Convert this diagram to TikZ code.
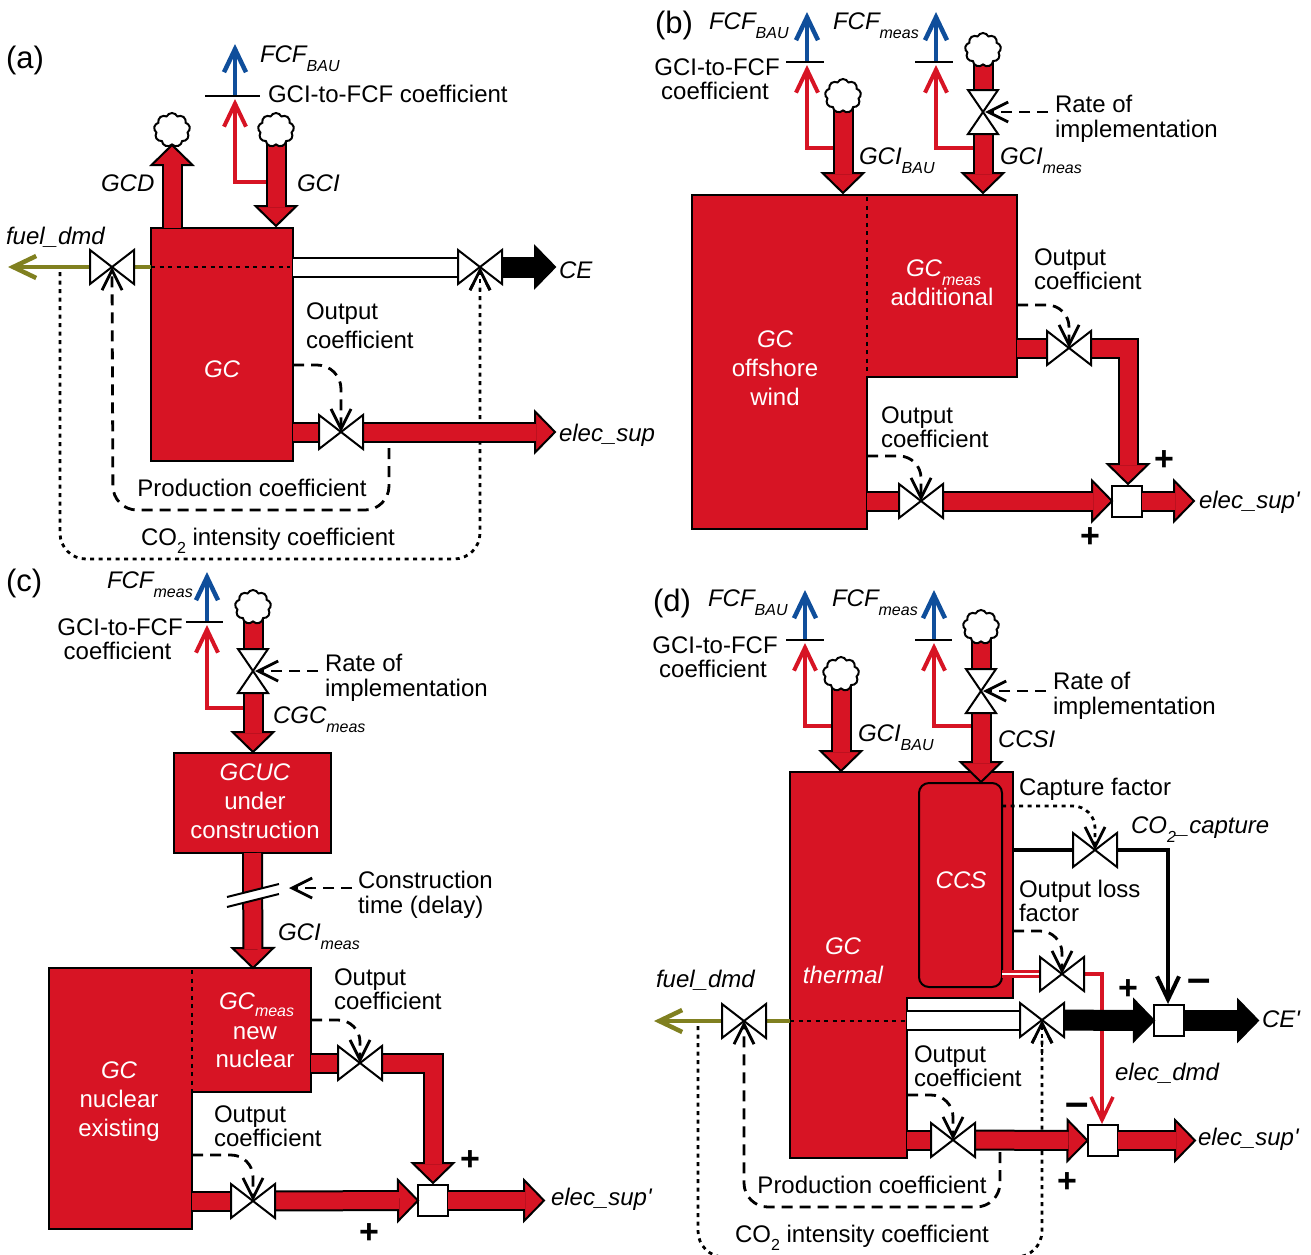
\documentclass[tikz,border=0pt]{standalone}
\usepackage{fontspec}
\setmainfont{Liberation Sans}
\usetikzlibrary{calc,arrows.meta,shapes.symbols}
\definecolor{gcred}{RGB}{215,20,36}
\definecolor{flowblue}{RGB}{15,78,155}
\definecolor{fuelolive}{RGB}{128,128,32}
\newcommand\sbt[1]{\raisebox{-9pt}{\fontsize{16}{16}\selectfont\itshape #1}}
\newcommand\cotwo{CO\raisebox{-8pt}{\fontsize{16}{16}\selectfont 2}}
\tikzset{
 x=1pt,y=-1pt,
 every node/.style={inner sep=0pt,outer sep=0pt,font=\fontsize{24}{24.5}\selectfont},
 lab/.style={anchor=base west},
 txt/.style={anchor=west,align=left},
 ctxt/.style={anchor=center,align=center},
 wh/.style={text=white},
 ls/.style={font=\fontsize{24}{#1}\selectfont},
 panel/.style={anchor=base west,font=\fontsize{31}{31}\selectfont},
 sign/.style={font=\fontsize{34}{34}\selectfont\bfseries},
 minussign/.style={font=\fontsize{42}{42}\selectfont\bfseries},
 gcbox/.style={draw=black,fill=gcred,line width=2pt},
 pipe/.style={draw=black,line width=2pt,double=#1,double distance=17pt},
 head/.style={draw=black,line width=2pt,miter limit=8},
 vlv/.style={draw=black,fill=white,line width=2pt},
 sq/.style={draw=black,fill=white,line width=2pt,minimum width=30pt,minimum height=31pt},
 puff/.style={cloud,cloud puffs=9,cloud puff arc=130,aspect=1.05,draw=black,fill=white,line width=2pt,minimum width=36pt,minimum height=34pt},
 barb/.style={-{Straight Barb[length=23pt,width=22pt,line width=#1]}},
 cbarb/.style={-{Straight Barb[length=20pt,width=20pt,line width=#1]}},
 bluearr/.style={draw=flowblue,line width=4.5pt,barb=4.5pt},
 redarr/.style={draw=gcred,line width=4pt,barb=4pt},
 fuelarr/.style={draw=fuelolive,line width=4.5pt,barb=4.5pt},
 coefbar/.style={draw=black,line width=2pt},
 dashctl/.style={draw=black,line width=2.8pt,dash pattern=on 11pt off 7pt,cbarb=2.8pt},
 dotctl/.style={draw=black,line width=2.8pt,dash pattern=on 4pt off 4.5pt,cbarb=2.8pt},
 dotin/.style={draw=black,line width=2.8pt,dash pattern=on 4pt off 4.5pt},
 co2line/.style={draw=black,line width=4pt,barb=4pt},
}
% fat arrow with head
\newcommand\fat[3][gcred]{%
 \coordinate (tmpT) at ($(#3)!20pt!(#2)$);
 \filldraw[head,fill=#1] ($(tmpT)!20.5pt!90:(#3)$) -- (#3) -- ($(tmpT)!20.5pt!-90:(#3)$) -- cycle;
 \coordinate (tmpE) at ($(#3)!19pt!(#2)$);
 \draw[pipe=#1] (#2) -- (tmpE);}
% fat arrow with a bend
\newcommand\fatL[4][gcred]{%
 \coordinate (tmpT) at ($(#4)!20pt!(#3)$);
 \filldraw[head,fill=#1] ($(tmpT)!20.5pt!90:(#4)$) -- (#4) -- ($(tmpT)!20.5pt!-90:(#4)$) -- cycle;
 \coordinate (tmpE) at ($(#4)!19pt!(#3)$);
 \draw[pipe=#1] (#2) -- (#3) -- (tmpE);}
\newcommand\pipeseg[3][gcred]{\draw[pipe=#1] (#2) -- (#3);}
\newcommand\valveH[1]{\fill[white] ($(#1)+(-22,-17)$) rectangle ($(#1)+(22,17)$);\filldraw[vlv] ($(#1)+(-22,-17)$) -- ($(#1)+(-22,17)$) -- ($(#1)+(22,-17)$) -- ($(#1)+(22,17)$) -- cycle;}
\newcommand\valveV[1]{\fill[white] ($(#1)+(-15,-22)$) rectangle ($(#1)+(15,22)$);\filldraw[vlv] ($(#1)+(-15,-22)$) -- ($(#1)+(15,-22)$) -- ($(#1)+(-15,22)$) -- ($(#1)+(15,22)$) -- cycle;}
\newcommand\cbar[3]{\draw[coefbar] ($(#1)+(-#2,0)$) -- ($(#1)+(#3,0)$);}
\begin{document}
\begin{tikzpicture}
\useasboundingbox (0,0) rectangle (1311,1254);
%%%%%%%%%% (a)
\node[panel] (la) at (6,68) {(a)};
\coordinate (aBar) at (235,96);
\coordinate (aBlueT) at (235,44);
\coordinate (aRedT) at (235,99);
\coordinate (aGciC) at (276,130);
\coordinate (aGciT) at (276,226);
\coordinate (aGciJ) at (276,182);
\coordinate (aGcdB) at (172,228);
\coordinate (aGcdT) at (172,145);
\node[gcbox,minimum width=142pt,minimum height=233pt] (aGC) at (222,344.5) {};
\coordinate (aFuelS) at (151,267);
\coordinate (aFuelT) at (8,267);
\coordinate (aFuelV) at (112,267);
\coordinate (aCeV) at (480,267);
\coordinate (aWhS) at (293,267);
\coordinate (aCeT) at (555,267);
\coordinate (aElS) at (293,432);
\coordinate (aElV) at (341,432);
\coordinate (aElT) at (555,432);
\coordinate (aOutS) at (293,365);
\coordinate (aP1) at (389,448);
\coordinate (aP2) at (389,510);
\coordinate (aP3) at (113,510);
\coordinate (aC0) at (60,272);
\coordinate (aC1) at (60,559);
\coordinate (aC2) at (480,559);
\coordinate (aCx) at (480,300);
\draw[dotctl,rounded corners=26pt] (aC0) -- (aC1) -- (aC2) -- (aCeV);
\draw[redarr] (aGciJ) -| (aRedT);
\draw[bluearr] (aBar) -- (aBlueT);
\cbar{aBar}{30}{25}
\fat{aGciC}{aGciT}
\fat{aGcdB}{aGcdT}
\node[puff] (aCl1) at (aGciC) {};
\node[puff] (aCl2) at (172,130) {};
\draw[fuelarr] (aFuelS) -- (aFuelT);
\draw[dotin] (aFuelS) -- (290,267);
\pipeseg[white]{aWhS}{aCeV}
\fat[black]{aCeV}{aCeT}
\pipeseg{aElS}{aElV}
\fat{aElV}{aElT}
\valveH{aFuelV}\valveH{aCeV}\valveH{aElV}
\draw[dotctl] (aCx) -- (aCeV);
\draw[dashctl,rounded corners=24pt] (aOutS) -| (aElV);
\draw[dashctl,rounded corners=24pt] (aP1) -- (aP2) -- (aP3) -- (aFuelV);
\node[lab] (la1) at (260,62) {\itshape FCF\sbt{BAU}};
\node[lab] (la2) at (268,102) {GCI-to-FCF coefficient};
\node[lab] (la3) at (101,191) {\itshape GCD};
\node[lab] (la4) at (297,191) {\itshape GCI};
\node[lab] (la5) at (6,244) {\itshape fuel\_dmd};
\node[lab] (la6) at (559,278) {\itshape CE};
\node[txt,ls=29] (la7) at (306,326) {Output\\coefficient};
\node[wh] (la8) at (222,369) {\itshape GC};
\node[lab] (la9) at (559,441) {\itshape elec\_sup};
\node (la10) at (252,488) {Production coefficient};
\node[lab] (la11) at (141,545) {\cotwo{} intensity coefficient};
%%%%%%%%%% (b)
\node[panel] (lb) at (655,33) {(b)};
\coordinate (bBar1) at (807,62);
\coordinate (bBlue1) at (807,12);
\coordinate (bRed1) at (807,65);
\coordinate (bJ1) at (843,148);
\coordinate (bC1) at (843,96);
\coordinate (bT1) at (843,193);
\coordinate (bBar2) at (936,62);
\coordinate (bBlue2) at (936,12);
\coordinate (bRed2) at (936,65);
\coordinate (bJ2) at (983,148);
\coordinate (bC2) at (983,50);
\coordinate (bV2) at (983,112);
\coordinate (bT2) at (983,193);
\coordinate (bRate) at (1048,112);
\coordinate (bTip2) at (985,112);
\filldraw[gcbox] (692,195) -- (1017,195) -- (1017,377) -- (867,377) -- (867,529) -- (692,529) -- cycle;
\draw[dotin] (867,197) -- (867,377);
\draw[redarr] (bJ1) -| (bRed1);
\draw[redarr] (bJ2) -| (bRed2);
\draw[bluearr] (bBar1) -- (bBlue1);
\draw[bluearr] (bBar2) -- (bBlue2);
\cbar{bBar1}{21}{17}\cbar{bBar2}{21}{17}
\fat{bC1}{bT1}
\pipeseg{bC2}{bV2}
\fat{bV2}{bT2}
\node[puff] (bCl1) at (bC1) {};
\node[puff] (bCl2) at (bC2) {};
\valveV{bV2}
\draw[dashctl] (bRate) -- (bTip2);
\coordinate (bUS) at (1017,348);
\coordinate (bUV) at (1069,348);
\coordinate (bUC) at (1128,348);
\coordinate (bUT) at (1128,484);
\coordinate (bUO) at (1017,305);
\coordinate (bLS) at (867,501);
\coordinate (bLV) at (921,501);
\coordinate (bLO) at (867,456);
\node[sq] (bSq) at (1127,501) {};
\coordinate (bOutT) at (1194,501);
\pipeseg{bUS}{bUV}
\fatL{bUV}{bUC}{bUT}
\pipeseg{bLS}{bLV}
\fat{bLV}{bSq.west}
\fat{bSq.east}{bOutT}
\valveH{bUV}\valveH{bLV}
\draw[dashctl,rounded corners=22pt] (bUO) -| (bUV);
\draw[dashctl,rounded corners=22pt] (bLO) -| (bLV);
\node[lab] (lb1) at (709,29) {\itshape FCF\sbt{BAU}};
\node[lab] (lb2) at (833,29) {\itshape FCF\sbt{meas}};
\node[ctxt] (lb3) at (717,79) {GCI-to-FCF\\coefficient\hspace*{4pt}};
\node[txt] (lb4) at (1055,119) {Rate of\\implementation};
\node[lab] (lb5) at (859,164) {\itshape GCI\sbt{BAU}};
\node[lab] (lb6) at (1000,164) {\itshape GCI\sbt{meas}};
\node[wh,lab] (lb7) at (906,276) {\itshape GC\sbt{meas}};
\node[wh] (lb8) at (942,297) {additional};
\node[txt] (lb9) at (1034,269) {Output\\coefficient};
\node[wh,ctxt,ls=29] (lb10) at (775,368) {\itshape GC\\offshore\\wind};
\node[txt] (lb11) at (881,427) {Output\\coefficient};
\node[sign] (lb12) at (1164,461) {+};
\node[sign] (lb13) at (1090,538) {+};
\node[lab] (lb14) at (1199,508) {\itshape elec\_sup\textquotesingle};
%%%%%%%%%% (c)
\node[panel] (lc) at (6,591) {(c)};
\coordinate (cBar) at (207,622);
\coordinate (cBlue) at (207,572);
\coordinate (cRed) at (207,625);
\coordinate (cJ) at (253,708);
\coordinate (cC) at (253,607);
\coordinate (cV) at (253,671);
\coordinate (cT) at (253,752);
\coordinate (cRate) at (318,671);
\coordinate (cTip) at (255,671);
\node[gcbox,minimum width=157pt,minimum height=100pt] (cUC) at (252.5,803) {};
\coordinate (cT2) at (253,968);
\filldraw[gcbox] (49,968) -- (311,968) -- (311,1092) -- (192,1092) -- (192,1229) -- (49,1229) -- cycle;
\draw[dotin] (192,970) -- (192,1092);
\draw[redarr] (cJ) -| (cRed);
\draw[bluearr] (cBar) -- (cBlue);
\cbar{cBar}{21}{16}
\pipeseg{cC}{cV}
\fat{cV}{cT}
\node[puff] (cCl) at (cC) {};
\valveV{cV}
\draw[dashctl] (cRate) -- (cTip);
\fat{cUC.south}{cT2}
\coordinate (cD1) at (227,897);\coordinate (cD2) at (279,884);
\coordinate (cD3) at (279,894);\coordinate (cD4) at (227,907);
\filldraw[fill=white,draw=none] (cD1) -- (cD2) -- (cD3) -- (cD4) -- cycle;
\draw[coefbar] (cD1) -- (cD2);
\draw[coefbar] (cD4) -- (cD3);
\coordinate (cDelS) at (352,888);
\coordinate (cDelT) at (289,888);
\draw[dashctl] (cDelS) -- (cDelT);
\coordinate (cUS) at (311,1063);
\coordinate (cUV) at (360,1063);
\coordinate (cUC2) at (433,1063);
\coordinate (cUT) at (433,1183);
\coordinate (cUO) at (311,1020);
\coordinate (cLS) at (192,1201);
\coordinate (cLV) at (253,1201);
\coordinate (cLO) at (192,1155);
\node[sq] (cSq) at (433,1200.5) {};
\coordinate (cOutT) at (544,1200.5);
\pipeseg{cUS}{cUV}
\fatL{cUV}{cUC2}{cUT}
\pipeseg{cLS}{cLV}
\fat{cLV}{cSq.west}
\fat{cSq.east}{cOutT}
\valveH{cUV}\valveH{cLV}
\draw[dashctl,rounded corners=22pt] (cUO) -| (cUV);
\draw[dashctl,rounded corners=22pt] (cLO) -| (cLV);
\node[lab] (lc1) at (107,588) {\itshape FCF\sbt{meas}};
\node[ctxt] (lc2) at (120,639) {GCI-to-FCF\\coefficient\hspace*{5pt}};
\node[txt] (lc3) at (325,678) {Rate of\\implementation};
\node[lab] (lc4) at (273,723) {\itshape CGC\sbt{meas}};
\node[wh,ctxt,ls=29] (lc5) at (255,801) {\itshape GCUC\\under\\construction};
\node[txt] (lc6) at (358,895) {Construction\\time (delay)};
\node[lab] (lc7) at (278,940) {\itshape GCI\sbt{meas}};
\node[wh,lab] (lc8) at (219,1009) {\itshape GC\raisebox{-7pt}{\fontsize{16}{16}\selectfont\itshape meas}};
\node[wh,ctxt,ls=28] (lc9) at (255,1047) {new\\nuclear};
\node[txt] (lc10) at (334,989) {Output\\coefficient};
\node[wh,ctxt,ls=29] (lc11) at (119,1102) {\itshape GC\\\upshape nuclear\\existing};
\node[txt] (lc12) at (214,1126) {Output\\coefficient};
\node[sign] (lc13) at (470,1161) {+};
\node[sign] (lc14) at (369,1234) {+};
\node[lab] (lc15) at (551,1205) {\itshape elec\_sup\textquotesingle};
%%%%%%%%%% (d)
\node[panel] (ld) at (653,611) {(d)};
\coordinate (dBar1) at (805,640);
\coordinate (dBlue1) at (805,590);
\coordinate (dRed1) at (805,643);
\coordinate (dJ1) at (841,726);
\coordinate (dC1) at (841,674);
\coordinate (dT1) at (841,771);
\coordinate (dBar2) at (934,640);
\coordinate (dBlue2) at (934,590);
\coordinate (dRed2) at (934,643);
\coordinate (dJ2) at (981,726);
\coordinate (dC2) at (981,627);
\coordinate (dV2) at (981,691);
\coordinate (dT2) at (981,782);
\coordinate (dRate) at (1046,691);
\coordinate (dTip) at (983,691);
% CO2 intensity loop, under the pipes
\coordinate (dFuelS) at (790,1021);
\coordinate (dFuelT) at (654,1021);
\coordinate (dFuelV) at (744,1021);
\coordinate (dCeV) at (1042,1020);
\coordinate (dC0) at (698,1026);
\coordinate (dC3) at (698,1257);
\coordinate (dC4) at (1042,1257);
\coordinate (dCx) at (1042,1055);
\draw[dotctl,rounded corners=26pt] (dC0) -- (dC3) -- (dC4) -- (dCeV);
\filldraw[gcbox] (790,772) -- (1013,772) -- (1013,998) -- (907,998) -- (907,1158) -- (790,1158) -- cycle;
\node[gcbox,rounded corners=10pt,minimum width=83pt,minimum height=204pt] (dCCS) at (960.5,885) {};
\draw[redarr] (dJ1) -| (dRed1);
\draw[redarr] (dJ2) -| (dRed2);
\draw[bluearr] (dBar1) -- (dBlue1);
\draw[bluearr] (dBar2) -- (dBlue2);
\cbar{dBar1}{19}{19}\cbar{dBar2}{19}{18}
\fat{dC1}{dT1}
\pipeseg{dC2}{dV2}
\fat{dV2}{dT2}
\node[puff] (dCl1) at (dC1) {};
\node[puff] (dCl2) at (dC2) {};
\valveV{dV2}
\draw[dashctl] (dRate) -- (dTip);
% capture line
\coordinate (dCapS) at (1013,850);
\coordinate (dCapV) at (1095,850);
\coordinate (dCapC) at (1168,850);
\coordinate (dCapT) at (1168,1004);
\coordinate (dCapO) at (1002,806);
\draw[black,line width=4pt] (dCapS) -- (dCapV);
\draw[co2line] (dCapV) -| (dCapT);
% output loss
\coordinate (dLossV) at (1062,974);
\coordinate (dLossS) at (1002,974);
\coordinate (dLossT) at (1102,1124);
\coordinate (dLossO) at (1013,931);
\draw[draw=gcred,line width=2.5pt,double=white,double distance=2.5pt] (dLossS) -- (dLossV);
\draw[draw=gcred,line width=3.5pt,barb=3.5pt] (dLossV) -| (dLossT);
% CE flows
\coordinate (dWhS) at (907,1020);
\coordinate (dCeOut) at (1258,1020.5);
\node[sq] (dSqC) at (1169,1020.5) {};
\pipeseg[white]{dWhS}{dCeV}
\fat[black]{dCeV}{dSqC.west}
\fat[black]{dSqC.east}{dCeOut}
\draw[fuelarr] (dFuelS) -- (dFuelT);
\draw[dotin] (dFuelS) -- (905,1021);
% electricity flows
\coordinate (dElS) at (907,1140);
\coordinate (dElV) at (953,1140);
\coordinate (dElOut) at (1195,1140.5);
\coordinate (dOutO) at (907,1095);
\node[sq] (dSqE) at (1102.5,1140.5) {};
\pipeseg{dElS}{dElV}
\fat{dElV}{dSqE.west}
\fat{dSqE.east}{dElOut}
\valveH{dCapV}\valveH{dLossV}\valveH{dCeV}\valveH{dFuelV}\valveH{dElV}
\draw[dotctl] (dCx) -- (dCeV);
\draw[dotctl,rounded corners=22pt] (dCapO) -| (dCapV);
\draw[dashctl,rounded corners=22pt] (dLossO) -| (dLossV);
\draw[dashctl,rounded corners=22pt] (dOutO) -| (dElV);
\coordinate (dP1) at (1000,1152);
\coordinate (dP2) at (1000,1207);
\coordinate (dP3) at (744,1207);
\draw[dashctl,rounded corners=24pt] (dP1) -- (dP2) -- (dP3) -- (dFuelV);
\node[lab] (ld1) at (708,606) {\itshape FCF\sbt{BAU}};
\node[lab] (ld2) at (832,606) {\itshape FCF\sbt{meas}};
\node[ctxt] (ld3) at (715,657) {GCI-to-FCF\\coefficient\hspace*{4pt}};
\node[txt] (ld4) at (1053,696) {Rate of\\implementation};
\node[lab] (ld5) at (858,741) {\itshape GCI\sbt{BAU}};
\node[lab] (ld6) at (998,747) {\itshape CCSI};
\node[lab] (ld7) at (1019,795) {Capture factor};
\node[lab] (ld8) at (1131,833) {\itshape CO\sbt{2}\_capture};
\node[wh] (ld9) at (961,880) {\itshape CCS};
\node[txt] (ld10) at (1019,901) {Output loss\\factor};
\node[wh,ctxt,ls=29] (ld11) at (843,960.5) {\itshape GC\\\itshape thermal};
\node[lab] (ld12) at (656,987) {\itshape fuel\_dmd};
\node[sign] (ld13) at (1128,990) {+};
\node[minussign] (ld14) at (1199,986) {–};
\node[lab] (ld15) at (1262,1027) {\itshape CE\textquotesingle};
\node[txt] (ld16) at (914,1066) {Output\\coefficient};
\node[lab] (ld17) at (1115,1080) {\itshape elec\_dmd};
\node[minussign] (ld18) at (1077,1110) {–};
\node[lab] (ld19) at (1198,1145) {\itshape elec\_sup\textquotesingle};
\node[sign] (ld20) at (1067,1183) {+};
\node (ld21) at (872,1185) {Production coefficient};
\node[lab] (ld22) at (735,1242) {\cotwo{} intensity coefficient};
\end{tikzpicture}
\end{document}
